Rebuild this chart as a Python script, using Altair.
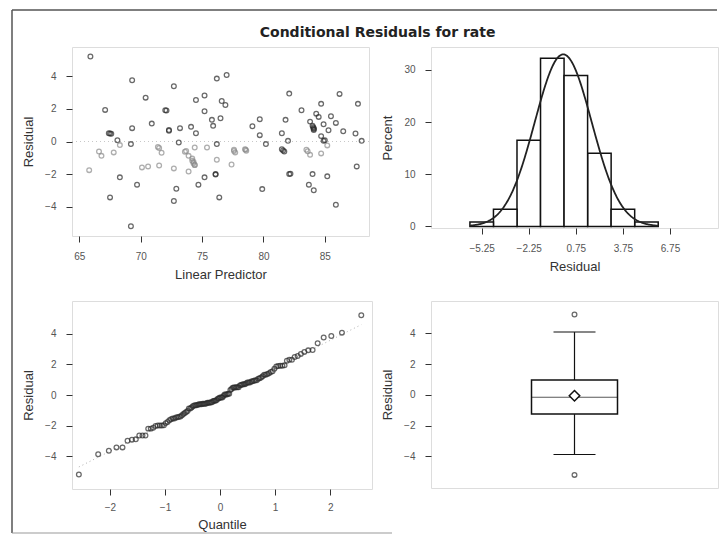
import altair as alt
import numpy as np
import pandas as pd

# ---- data ----
predictor = [65.9, 65.8, 66.6, 66.8, 67.1, 67.4, 67.5, 67.5, 67.8, 68.1,
             68.3, 68.3, 69.3, 69.3, 69.2, 69.2, 69.7, 70.1, 70.4, 70.6,
             70.9, 71.4, 71.5, 71.7, 72.0, 72.1, 72.3, 72.7, 72.7, 72.7,
             72.9, 73.1, 73.2, 73.6, 73.9, 73.9, 74.1, 74.2, 74.3, 74.4,
             74.4, 74.5, 74.5, 74.7, 75.2, 75.2, 75.2, 75.4, 75.8, 75.9,
             76.1, 76.2, 76.2, 76.2, 76.4, 76.5, 76.6, 76.9, 77.0, 77.4,
             77.6, 77.7, 78.5, 78.6, 79.1, 79.7, 79.7, 79.9, 80.2, 81.5,
             81.5, 81.7, 81.8, 82.0, 82.1, 82.2, 82.1, 83.1, 83.5, 83.7,
             83.8, 83.8, 84.0, 84.1, 84.1, 84.0, 84.1, 84.3, 84.5, 84.7,
             84.7, 84.7, 84.9, 84.9, 85.2, 85.2, 85.3, 85.5, 85.9, 85.9,
             86.2, 86.5, 87.5, 87.6, 87.7, 88.0,
             74.2, 74.3, 74.4, 78.55, 77.6, 81.6, 73.7, 71.5, 83.6,
             84.05, 84.1, 72.3, 67.6, 85.0, 76.1]
residual = [5.22, -1.76, -0.61, -0.88, 1.94, 0.51, 0.49, -3.43, -0.67, 0.08,
            -0.22, -2.20, 3.76, 0.82, -0.16, -5.20, -2.65, -1.59, 2.69, -1.53,
            1.10, -0.33, -1.47, -0.69, 1.92, 1.90, 0.71, 3.39, -1.65, -3.65,
            -2.90, -0.06, 0.82, -0.63, -0.88, -1.84, 0.90, -1.18, -1.33, -1.45,
            -0.37, 2.55, 0.51, -2.65, 2.82, 1.86, -2.20, -0.37, 1.33, 0.96,
            -2.00, 3.86, -0.16, -1.12, -3.43, 1.43, 2.49, 2.24, 4.08, -1.41,
            -0.51, -0.67, -0.47, -0.57, 0.94, 1.37, 0.39, -2.92, -0.16, 0.51,
            -0.47, -0.61, 1.33, 0.04, -2.00, -1.98, 2.94, 1.92, -0.51, -2.65,
            1.22, -0.82, 0.96, 0.82, 0.71, -2.00, -2.99, 1.71, 1.51, 2.31,
            -0.73, 0.33, 1.06, 0.04, -0.24, -2.14, 0.69, 1.55, -3.88, 1.14,
            2.92, 0.63, 0.49, -1.53, 2.31, 0.04,
            -1.05, -1.25, -1.42, -0.50, -0.58, -0.55, -0.58, -0.40, -0.60,
            0.88, 0.76, 0.66, 0.47, 0.08, -2.03]

pred_ticks = [65, 70, 75, 80, 85]
resid_ticks = [-4, -2, 0, 2, 4]
hist_ticks = [-5.25, -2.25, 0.75, 3.75, 6.75]
pct_ticks = [0, 10, 20, 30]
quant_ticks = [-2, -1, 0, 1, 2]
BIN_STEP = 1.5
BIN_EXTENT = [-6, 6]

df = pd.DataFrame({"pred": predictor, "resid": residual})
mu = float(np.mean(residual))
sd = float(np.std(residual, ddof=1))
one = pd.DataFrame({"k": [0]})

FONT = "Liberation Sans"
PT = dict(shape="circle", filled=False, size=22, strokeWidth=1.3)


def xaxis(title, values, fmt=None, lp=9, tp=7):
    kw = dict(title=title, values=values, domain=False, grid=False, tickSize=6,
              tickColor="#333", labelPadding=lp, labelFont=FONT, labelFontSize=10,
              labelColor="#555", titleFont=FONT, titleFontSize=13,
              titleFontWeight="normal", titleColor="#333", titlePadding=tp,
              labelFlush=False)
    if fmt:
        kw["format"] = fmt
    return alt.Axis(**kw)


def yaxis(title, values, fmt=None):
    kw = dict(title=title, values=values, domain=False, grid=False, tickSize=6,
              tickColor="#333", labelPadding=10, labelFont=FONT, labelFontSize=10,
              labelColor="#555", titleFont=FONT, titleFontSize=13,
              titleFontWeight="normal", titleColor="#333", titlePadding=9,
              labelFlush=False)
    if fmt:
        kw["format"] = fmt
    return alt.Axis(**kw)


# ---- panel 1: residual vs linear predictor ----
sx = alt.Scale(domain=[64.4, 88.6], nice=False, zero=False)
sy = alt.Scale(domain=[-5.8, 5.8], nice=False, zero=False)
scatter_pts = alt.Chart(df).mark_point(**PT).encode(
    x=alt.X("pred:Q", scale=sx, axis=xaxis("Linear Predictor", pred_ticks, "d")),
    y=alt.Y("resid:Q", scale=sy, axis=yaxis("Residual", resid_ticks, "d")),
    color=alt.condition(
        "datum.resid > -1.9 && datum.resid < -0.2 && datum.pred < 86 && (datum.pred < 80 || datum.pred > 83)",
        alt.value("#8c8c8c"), alt.value("#2b2b2b")),
)
zero_rule = alt.Chart(one).mark_rule(color="#c8c8c8", strokeDash=[1, 3]).encode(
    y=alt.datum(0, scale=sy))
frame_top = alt.Chart(one).mark_rule(color="#555", strokeWidth=1.5).encode(
    x=alt.value(-60), x2=alt.value(645), y=alt.value(-37))
frame_left = alt.Chart(one).mark_rule(color="#555", strokeWidth=1.5).encode(
    x=alt.value(-60), y=alt.value(-37), y2=alt.value(486))
frame_bot = alt.Chart(one).mark_rule(color="#999", strokeWidth=1).encode(
    x=alt.value(-60), x2=alt.value(320), y=alt.value(486))
scatter = alt.layer(zero_rule, scatter_pts, frame_top, frame_left, frame_bot).properties(
    width=297, height=189)

# ---- panel 2: histogram with normal curve ----
hx = alt.Scale(domain=[-8.48, 9.81], nice=False, zero=False)
hy = alt.Scale(domain=[-0.3, 34.4], nice=False, zero=False)
bars = alt.Chart(df).transform_bin(
    "b", "resid", bin=alt.Bin(extent=BIN_EXTENT, step=BIN_STEP)
).transform_aggregate(
    cnt="count()", groupby=["b", "b_end"]
).transform_joinaggregate(
    total="sum(cnt)"
).transform_calculate(
    pct="100*datum.cnt/datum.total"
).mark_bar(fill="white", stroke="#111", strokeWidth=1.5).encode(
    x=alt.X("b:Q", scale=hx, axis=xaxis("Residual", hist_ticks, ".2f")),
    x2="b_end:Q",
    y=alt.Y("pct:Q", scale=hy, axis=yaxis("Percent", pct_ticks, "d")),
    y2=alt.datum(0),
)
curve = alt.Chart(alt.sequence(BIN_EXTENT[0], BIN_EXTENT[1] + 0.001, 0.05, as_="v")).transform_calculate(
    pct=f"{100 * BIN_STEP}*densityNormal(datum.v, {mu}, {sd})"
).mark_line(color="#222", strokeWidth=1.8).encode(
    x=alt.X("v:Q", scale=hx),
    y=alt.Y("pct:Q", scale=hy),
)
hist = alt.layer(bars, curve).properties(width=287, height=181)

# ---- panel 3: Q-Q plot ----
qx = alt.Scale(domain=[-2.69, 2.76], nice=False, zero=False)
qy = alt.Scale(domain=[-6.15, 6.15], nice=False, zero=False)
qq_base = alt.Chart(df).transform_window(
    rank="row_number()", sort=[alt.SortField("resid", order="ascending")]
).transform_joinaggregate(
    n="count()", m="mean(resid)", s="stdev(resid)"
).transform_calculate(
    q="quantileNormal((datum.rank - 0.375) / (datum.n + 0.25))",
    fit="datum.m + datum.s * datum.q",
)
qq_line = qq_base.mark_line(color="#b0b0b0", strokeDash=[1, 3], strokeWidth=1).encode(
    x=alt.X("q:Q", scale=qx, axis=xaxis("Quantile", quant_ticks, "d", lp=7, tp=6)),
    y=alt.Y("fit:Q", scale=qy, axis=yaxis("Residual", resid_ticks, "d")),
)
qq_pts = qq_base.mark_point(**PT, color="#2b2b2b").encode(
    x=alt.X("q:Q", scale=qx),
    y=alt.Y("resid:Q", scale=qy),
)
qq = alt.layer(qq_line, qq_pts).properties(width=300, height=188)

# ---- panel 4: box plot ----
by = alt.Scale(domain=[-6.05, 6.1], nice=False, zero=False)
box = alt.Chart(df).mark_boxplot(
    extent=1.5, size=86,
    box=alt.MarkConfig(fill="white", stroke="#111", strokeWidth=1.5),
    median=alt.MarkConfig(color="#111", strokeWidth=1.5),
    rule=alt.MarkConfig(color="#111", strokeWidth=1.2),
    ticks=alt.MarkConfig(color="#111", size=42, strokeWidth=1.2),
    outliers=alt.MarkConfig(shape="circle", filled=False, size=22, color="#2b2b2b", strokeWidth=1.3),
).encode(
    y=alt.Y("resid:Q", scale=by, axis=yaxis("Residual", resid_ticks, "d")),
)
mean_pt = alt.Chart(df).mark_point(shape="diamond", size=110, filled=True, fill="white",
                                   stroke="#111", strokeWidth=1.5).encode(
    y=alt.Y("mean(resid):Q", scale=by),
)
boxp = alt.layer(box, mean_pt).properties(width=287, height=187)

chart = alt.concat(scatter, hist, qq, boxp, columns=2, bounds="flush",
                   spacing={"row": 65, "column": 59}).properties(
    title=alt.TitleParams("Conditional Residuals for rate", font="DejaVu Sans", fontSize=14,
                          fontWeight="bold", color="#222", anchor="middle", dx=13, offset=-31),
    padding={"left": 2, "top": 0, "right": 0, "bottom": 0},
).configure_view(stroke="#333", strokeWidth=1.3).configure(font=FONT)

chart.save("out.html", embed_options={"renderer": "svg", "actions": False})
